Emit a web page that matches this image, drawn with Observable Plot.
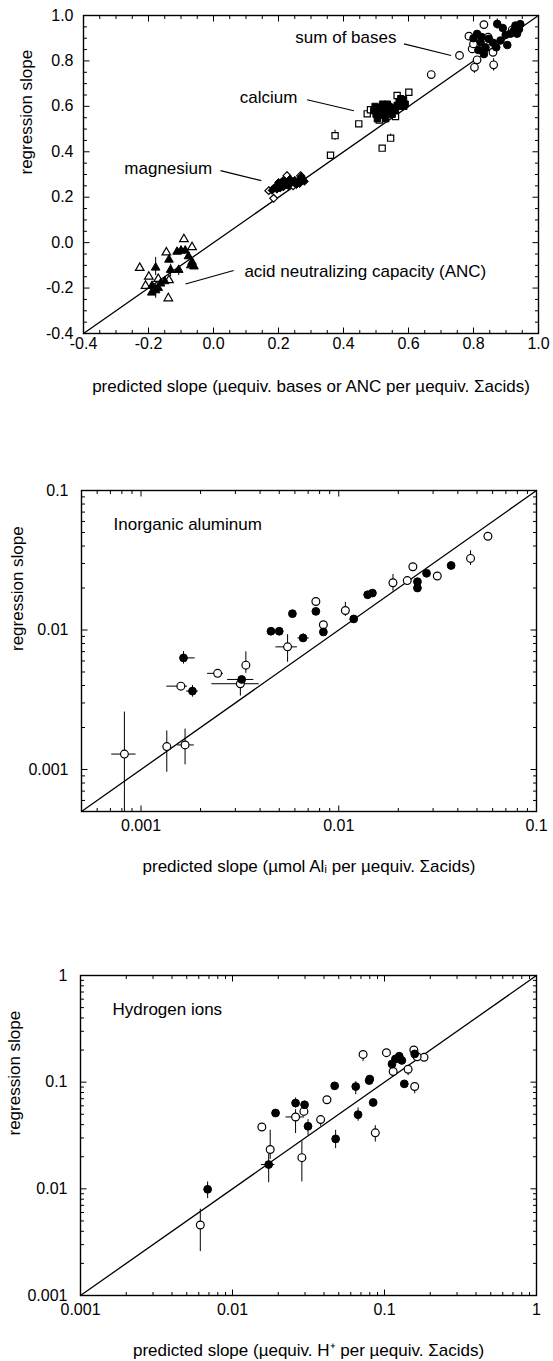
<!DOCTYPE html>
<html><head><meta charset="utf-8">
<script src="https://cdn.jsdelivr.net/npm/d3@7"></script>
<script src="https://cdn.jsdelivr.net/npm/@observablehq/plot@0.6"></script>
<style>
body{margin:0;background:#fff;}
#chart{width:553px;}
#chart svg{display:block;}
</style></head><body><div id="chart"></div>
<script>
// ---------- Panel 1: bases / ANC (linear) ----------
const basesOpen = [[0.757,0.824],[0.670,0.740],[0.786,0.909],[0.832,0.960],[0.796,0.853],[0.811,0.805],[0.803,0.772],[0.860,0.838],[0.862,0.783],[0.919,0.937],[0.800,0.875],[0.845,0.905]];
const basesFilled = [[0.811,0.919],[0.822,0.882],[0.837,0.860],[0.847,0.897],[0.815,0.848],[0.873,0.963],[0.883,0.890],[0.899,0.915],[0.914,0.920],[0.929,0.956],[0.934,0.920],[0.944,0.962],[0.904,0.870],[0.832,0.830],[0.825,0.905],[0.860,0.880],[0.890,0.945],[0.925,0.935],[0.940,0.940],[0.870,0.860],[0.800,0.900]];
const basesErr = [[0.803,0.745,0.800],[0.862,0.755,0.810],[0.930,0.905,0.965],[0.873,0.940,0.985]];
const calciumOpen = [[0.360,0.385],[0.374,0.471],[0.447,0.523],[0.473,0.567],[0.519,0.416],[0.545,0.460],[0.560,0.555],[0.601,0.662],[0.565,0.648],[0.483,0.585],[0.510,0.540]];
const calciumFilled = [[0.493,0.581],[0.504,0.545],[0.514,0.595],[0.524,0.566],[0.535,0.610],[0.545,0.580],[0.555,0.595],[0.571,0.620],[0.576,0.634],[0.586,0.600],[0.509,0.560],[0.530,0.545],[0.500,0.565],[0.540,0.600],[0.520,0.610],[0.565,0.605],[0.580,0.615],[0.550,0.565],[0.497,0.600],[0.510,0.580],[0.525,0.590],[0.535,0.575],[0.560,0.580],[0.570,0.600],[0.585,0.630],[0.590,0.610]];
const calciumErr = [[0.374,0.450,0.495],[0.545,0.445,0.478]];
const magnesiumOpen = [[0.226,0.295],[0.268,0.295],[0.170,0.229],[0.185,0.195],[0.205,0.262],[0.245,0.250]];
const magnesiumFilled = [[0.180,0.230],[0.190,0.245],[0.200,0.250],[0.210,0.260],[0.215,0.245],[0.220,0.270],[0.230,0.265],[0.235,0.280],[0.245,0.265],[0.250,0.275],[0.260,0.270],[0.265,0.260],[0.275,0.280],[0.195,0.235],[0.205,0.240],[0.225,0.255],[0.255,0.255],[0.185,0.240],[0.200,0.265],[0.215,0.275],[0.240,0.270],[0.270,0.290],[0.280,0.270],[0.230,0.250]];
const ancOpen = [[-0.227,-0.111],[-0.145,-0.043],[-0.091,0.015],[-0.066,-0.020],[-0.199,-0.150],[-0.139,-0.245],[-0.209,-0.190],[-0.137,-0.165],[-0.170,-0.160]];
const ancFilled = [[-0.178,-0.110],[-0.137,-0.075],[-0.112,-0.040],[-0.087,-0.035],[-0.066,-0.085],[-0.060,-0.105],[-0.107,-0.120],[-0.132,-0.120],[-0.178,-0.210],[-0.189,-0.190],[-0.163,-0.180],[-0.150,-0.170],[-0.077,-0.060],[-0.100,-0.035],[-0.070,-0.100],[-0.170,-0.200],[-0.190,-0.220]];
const ancErr = [[-0.178,-0.145,-0.065],[-0.178,-0.245,-0.180],[-0.132,-0.150,-0.095],[-0.107,-0.145,-0.100]];
const p1Ticks = [-0.4,-0.2,0.0,0.2,0.4,0.6,0.8,1.0];
const p1Labels = ["sum of bases","calcium","magnesium","acid neutralizing capacity (ANC)"];
const p1LabelX = [0.563,0.258,-0.004,0.095];
const p1LabelY = [0.904,0.640,0.325,-0.126];
const p1LabelAnchor = ["end","end","end","start"];
const p1Leaders = [[0.586,0.875,0.731,0.824],[0.288,0.629,0.432,0.581],[0.0215,0.317,0.147,0.273],[0.062,-0.123,-0.086,-0.182]];

// ---------- Panel 2: inorganic aluminum (log) ----------
const alOpen = [[0.0568,0.047],[0.0464,0.0326],[0.0315,0.0244],[0.0237,0.0284],[0.0222,0.0226],[0.0188,0.0218],[0.00766,0.016],[0.0108,0.0138],[0.00836,0.0109],[0.00551,0.00757],[0.00244,0.00489],[0.00339,0.0056],[0.00318,0.00412],[0.00159,0.00396],[0.000824,0.00129],[0.00135,0.00146],[0.00167,0.0015]];
const alFilled = [[0.037,0.029],[0.0278,0.0255],[0.025,0.0222],[0.025,0.020],[0.014,0.0179],[0.0148,0.0184],[0.00766,0.0136],[0.00583,0.0131],[0.0119,0.012],[0.00836,0.00968],[0.00454,0.0098],[0.005,0.0098],[0.0066,0.00877],[0.00164,0.00631],[0.00323,0.00442],[0.00182,0.00365]];
const alErrY = [[0.000824,0.0005,0.00258],[0.00135,0.000955,0.00189],[0.00167,0.00108,0.00195],[0.00318,0.00336,0.0046],[0.00339,0.00489,0.00697],[0.00551,0.00587,0.00925],[0.00164,0.0057,0.0070],[0.00182,0.0033,0.0040],[0.0188,0.019,0.025],[0.0464,0.029,0.037],[0.0108,0.0125,0.0158],[0.0066,0.0082,0.0094]];
const alErrX = [[0.00129,0.000711,0.000944],[0.0015,0.00153,0.00186],[0.00396,0.00135,0.00172],[0.00631,0.00159,0.00188],[0.00489,0.00217,0.00261],[0.00442,0.00274,0.00372],[0.00412,0.00228,0.00396],[0.00757,0.00481,0.00618],[0.00877,0.00622,0.00709],[0.00365,0.0017,0.00195]];
const p2XTicks = [0.001,0.01,0.1];
const p2YTicks = [0.001,0.01,0.1];

// ---------- Panel 3: hydrogen ions (log) ----------
const hOpen = [[0.0723,0.182],[0.103,0.189],[0.156,0.200],[0.182,0.171],[0.164,0.173],[0.114,0.126],[0.143,0.132],[0.158,0.091],[0.087,0.0335],[0.0418,0.0684],[0.038,0.0446],[0.0295,0.0532],[0.026,0.0472],[0.0156,0.038],[0.0177,0.0234],[0.0286,0.0196],[0.00614,0.00458]];
const hFilled = [[0.158,0.184],[0.118,0.165],[0.125,0.175],[0.130,0.160],[0.112,0.148],[0.080,0.107],[0.135,0.0964],[0.047,0.0924],[0.0647,0.091],[0.0793,0.1035],[0.0842,0.0645],[0.067,0.0496],[0.0477,0.0294],[0.0314,0.0386],[0.0298,0.0614],[0.026,0.0637],[0.0192,0.0514],[0.0173,0.0169],[0.00686,0.0099]];
const hErrY = [[0.00614,0.00258,0.00645],[0.00686,0.0081,0.0116],[0.0173,0.0114,0.021],[0.0177,0.0189,0.0354],[0.0286,0.0116,0.028],[0.026,0.033,0.0552],[0.026,0.0573,0.071],[0.0314,0.0316,0.0445],[0.038,0.0386,0.048],[0.0477,0.0238,0.0354],[0.0647,0.0763,0.101],[0.067,0.043,0.0573],[0.087,0.0275,0.0391],[0.158,0.0777,0.091],[0.0723,0.156,0.182],[0.143,0.115,0.132]];
const hErrX = [[0.0472,0.0225,0.0298],[0.0169,0.0155,0.019]];
const p3XTicks = [0.001,0.01,0.1,1];
const p3YTicks = [0.001,0.01,0.1,1];

const yTitle = "regression slope";
const xTitles = ["predicted slope (\u00b5equiv. bases or ANC per \u00b5equiv. \u03a3acids)",
                 "predicted slope (\u00b5mol Al\u1d62 per \u00b5equiv. \u03a3acids)",
                 "predicted slope (\u00b5equiv. H\u207a per \u00b5equiv. \u03a3acids)"];
const panelNames = ["Inorganic aluminum","Hydrogen ions"];

const FONT = "'Liberation Sans', Arial, Helvetica, sans-serif";
const TICKFS = 16, TITLEFS = 17;

// tick-mark symbols drawn inward from the frame (length = r)
const tickSym = (dx, dy) => ({draw(ctx, size){const l = Math.sqrt(size/Math.PI); ctx.moveTo(0,0); ctx.lineTo(dx*l, dy*l);}});
const UP = tickSym(0,-1), DOWN = tickSym(0,1), RIGHT = tickSym(1,0), LEFT = tickSym(-1,0);

function frameTicks(xMajor, xMinor, yMajor, yMinor, xDom, yDom){
  const m = [];
  const o = {stroke:"black", strokeWidth:1, fill:"none"};
  for (const [t, l] of [[xMajor,6],[xMinor,3.5]]) {
    m.push(Plot.dot(t, {x:d=>d, y:()=>yDom[0], symbol:UP, r:l, ...o}));
    m.push(Plot.dot(t, {x:d=>d, y:()=>yDom[1], symbol:DOWN, r:l, ...o}));
  }
  for (const [t, l] of [[yMajor,6],[yMinor,3.5]]) {
    m.push(Plot.dot(t, {y:d=>d, x:()=>xDom[0], symbol:RIGHT, r:l, ...o}));
    m.push(Plot.dot(t, {y:d=>d, x:()=>xDom[1], symbol:LEFT, r:l, ...o}));
  }
  return m;
}
function logMinor(lo, hi){
  const out = [];
  for (let e = -5; e <= 1; e++) for (let k = 2; k <= 9; k++) { const v = k * Math.pow(10, e); if (v > lo*1.0001 && v < hi*0.9999) out.push(v); }
  return out;
}
const openStyle = {fill:"white", stroke:"black", strokeWidth:1.2};
const fillStyle = {fill:"black", stroke:"black", strokeWidth:1};
const errV = (data) => Plot.ruleX(data, {x:d=>d[0], y1:d=>d[1], y2:d=>d[2], stroke:"black", strokeWidth:1});
const errH = (data) => Plot.ruleY(data, {y:d=>d[0], x1:d=>d[1], x2:d=>d[2], stroke:"black", strokeWidth:1});
const pts = (data, symbol, style, r) => Plot.dot(data, {x:d=>d[0], y:d=>d[1], symbol, r, ...style});
const style = {fontFamily: FONT, fontSize: TICKFS + "px", color: "black", background: "white", overflow: "visible"};

const chart = document.getElementById("chart");

// ---------- Panel 1 ----------
{
  const dom = [-0.4, 1.0];
  const minor = d3.range(-40, 101, 5).map(d => d/100).filter(d => !p1Ticks.some(t => Math.abs(t-d) < 1e-9));
  const fmt = d => d.toFixed(1);
  const idx = d3.range(p1Labels.length);
  const labelMark = (anchor) => Plot.text(idx.filter(i => p1LabelAnchor[i] === anchor), {x:i=>p1LabelX[i], y:i=>p1LabelY[i], text:i=>p1Labels[i], textAnchor:anchor, fontSize:TITLEFS});
  const p = Plot.plot({
    width: 553, height: 440,
    marginTop: 15, marginBottom: 107, marginLeft: 83, marginRight: 15,
    x: {domain: dom}, y: {domain: dom},
    style,
    marks: [
      Plot.line([dom[0], dom[1]], {x:d=>d, y:d=>d, stroke:"black", strokeWidth:1.3}),
      ...frameTicks(p1Ticks, minor, p1Ticks, minor, dom, dom),
      Plot.frame({stroke:"black", strokeWidth:1.4}),
      Plot.axisX({ticks: p1Ticks, tickSize: 0, tickPadding: 4, tickFormat: fmt, label: null}),
      Plot.axisY({ticks: p1Ticks, tickSize: 0, tickPadding: 10, tickFormat: fmt, label: null}),
      Plot.link(p1Leaders, {x1:d=>d[0], y1:d=>d[1], x2:d=>d[2], y2:d=>d[3], stroke:"black", strokeWidth:1.1}),
      labelMark("end"), labelMark("start"),
      errV(basesErr), errV(calciumErr), errV(ancErr),
      pts(magnesiumOpen, "diamond2", openStyle, 3.5),
      pts(magnesiumFilled, "diamond2", fillStyle, 3.5),
      pts(ancOpen, "triangle", openStyle, 3.2),
      pts(ancFilled, "triangle", fillStyle, 3.2),
      pts(calciumOpen, "square", openStyle, 3.5),
      pts(calciumFilled, "square", fillStyle, 3.5),
      pts(basesOpen, "circle", openStyle, 3.8),
      pts(basesFilled, "circle", fillStyle, 3.8),
      Plot.text([yTitle], {frameAnchor:"left", rotate:-90, dx:-57, text:d=>d, fontSize:TITLEFS}),
      Plot.text([xTitles[0]], {frameAnchor:"bottom", dy:58, text:d=>d, fontSize:TITLEFS})
    ]
  });
  chart.appendChild(p);
}

// ---------- Log panels ----------
function logPanel({height, mt, mb, ml, mr, xDom, yDom, xTicks, yTicks, openPts, filledPts, eV, eH, title, name, yLabelDx}) {
  const fmt = d => String(d);
  return Plot.plot({
    width: 553, height,
    marginTop: mt, marginBottom: mb, marginLeft: ml, marginRight: mr,
    x: {type:"log", domain: xDom}, y: {type:"log", domain: yDom},
    style,
    marks: [
      Plot.line([Math.max(xDom[0], yDom[0]), Math.min(xDom[1], yDom[1])], {x:d=>d, y:d=>d, stroke:"black", strokeWidth:1.3}),
      ...frameTicks(xTicks, logMinor(xDom[0], xDom[1]), yTicks, logMinor(yDom[0], yDom[1]), xDom, yDom),
      Plot.frame({stroke:"black", strokeWidth:1.4}),
      Plot.axisX({ticks: xTicks, tickSize: 0, tickPadding: 8, tickFormat: fmt, label: null}),
      Plot.axisY({ticks: yTicks, tickSize: 0, tickPadding: 13, tickFormat: fmt, label: null}),
      errV(eV), errH(eH),
      pts(openPts, "circle", openStyle, 3.9),
      pts(filledPts, "circle", fillStyle, 3.9),
      Plot.text([name], {frameAnchor:"top-left", dx:32, dy:34, text:d=>d, textAnchor:"start", lineAnchor:"middle", fontSize:TITLEFS}),
      Plot.text([yTitle], {frameAnchor:"left", rotate:-90, dx:yLabelDx, text:d=>d, fontSize:TITLEFS}),
      Plot.text([title], {frameAnchor:"bottom", dy:60, text:d=>d, fontSize:TITLEFS})
    ]
  });
}
chart.appendChild(logPanel({height:480, mt:50, mb:109, ml:81, mr:17, xDom:[0.0005,0.1], yDom:[0.0005,0.1],
  xTicks:p2XTicks, yTicks:p2YTicks, openPts:alOpen, filledPts:alFilled, eV:alErrY, eH:alErrX, title:xTitles[1], name:panelNames[0], yLabelDx:-64}));
chart.appendChild(logPanel({height:441, mt:55, mb:66, ml:80, mr:17, xDom:[0.001,1], yDom:[0.001,1],
  xTicks:p3XTicks, yTicks:p3YTicks, openPts:hOpen, filledPts:hFilled, eV:hErrY, eH:hErrX, title:xTitles[2], name:panelNames[1], yLabelDx:-66}));
</script></body></html>
